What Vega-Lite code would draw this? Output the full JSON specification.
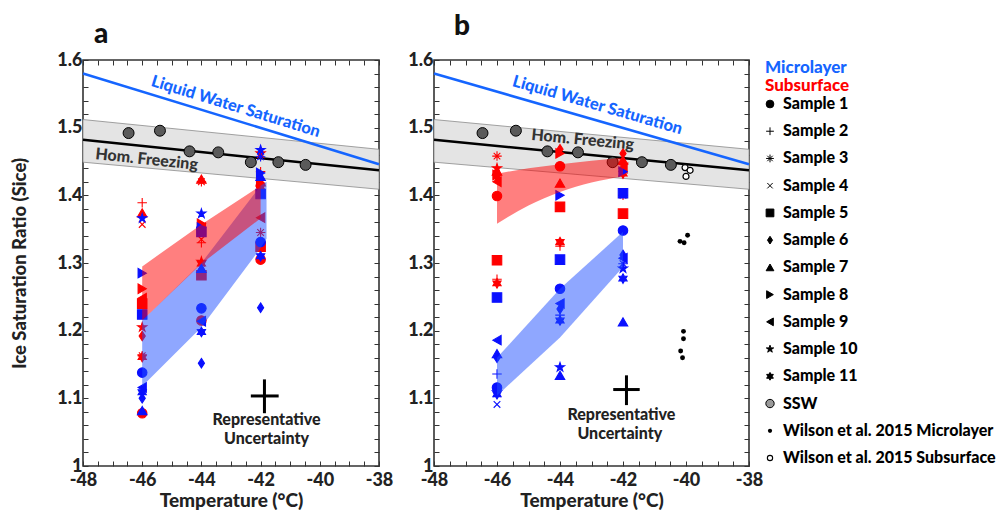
{
"$schema": "https://vega.github.io/schema/vega-lite/v6.json",
"background": "white",
"padding": {"left": 10, "top": 12, "right": 0, "bottom": 0},
"spacing": -11,
"config": {
  "font": "Lato",
  "view": {"stroke": "#333", "strokeWidth": 1.6},
  "axis": {"minExtent": 0, "labelFont": "Lato", "labelFontWeight": 900, "labelFontSize": 18, "labelColor": "#222", "titleFont": "Lato", "titleFontWeight": 900, "titleFontSize": 19, "titleColor": "#222", "grid": false, "domain": false, "tickColor": "#333", "tickSize": -5, "tickWidth": 1, "labelPadding": 6}
},
"datasets": {
  "pts": [
    {"p":"a","T":-46,"S":1.389,"sample":"Sample 2","type":"Subsurface"},
    {"p":"a","T":-46,"S":1.374,"sample":"Sample 7","type":"Subsurface"},
    {"p":"a","T":-46,"S":1.357,"sample":"Sample 4","type":"Subsurface"},
    {"p":"a","T":-46,"S":1.262,"sample":"Sample 8","type":"Subsurface"},
    {"p":"a","T":-46,"S":1.248,"sample":"Sample 9","type":"Subsurface"},
    {"p":"a","T":-46,"S":1.240,"sample":"Sample 5","type":"Subsurface"},
    {"p":"a","T":-46,"S":1.205,"sample":"Sample 10","type":"Subsurface"},
    {"p":"a","T":-46,"S":1.192,"sample":"Sample 6","type":"Subsurface"},
    {"p":"a","T":-46,"S":1.163,"sample":"Sample 3","type":"Subsurface"},
    {"p":"a","T":-46,"S":1.161,"sample":"Sample 11","type":"Subsurface"},
    {"p":"a","T":-46,"S":1.078,"sample":"Sample 1","type":"Subsurface"},
    {"p":"a","T":-44,"S":1.420,"sample":"Sample 3","type":"Subsurface"},
    {"p":"a","T":-44,"S":1.424,"sample":"Sample 7","type":"Subsurface"},
    {"p":"a","T":-44,"S":1.358,"sample":"Sample 8","type":"Subsurface"},
    {"p":"a","T":-44,"S":1.352,"sample":"Sample 9","type":"Subsurface"},
    {"p":"a","T":-44,"S":1.335,"sample":"Sample 4","type":"Subsurface"},
    {"p":"a","T":-44,"S":1.330,"sample":"Sample 2","type":"Subsurface"},
    {"p":"a","T":-44,"S":1.299,"sample":"Sample 11","type":"Subsurface"},
    {"p":"a","T":-44,"S":1.302,"sample":"Sample 10","type":"Subsurface"},
    {"p":"a","T":-44,"S":1.282,"sample":"Sample 5","type":"Subsurface"},
    {"p":"a","T":-44,"S":1.290,"sample":"Sample 6","type":"Subsurface"},
    {"p":"a","T":-44,"S":1.215,"sample":"Sample 1","type":"Subsurface"},
    {"p":"a","T":-42,"S":1.435,"sample":"Sample 2","type":"Subsurface"},
    {"p":"a","T":-42,"S":1.462,"sample":"Sample 10","type":"Subsurface"},
    {"p":"a","T":-42,"S":1.420,"sample":"Sample 7","type":"Subsurface"},
    {"p":"a","T":-42,"S":1.412,"sample":"Sample 11","type":"Subsurface"},
    {"p":"a","T":-42,"S":1.418,"sample":"Sample 8","type":"Subsurface"},
    {"p":"a","T":-42,"S":1.367,"sample":"Sample 9","type":"Subsurface"},
    {"p":"a","T":-42,"S":1.345,"sample":"Sample 3","type":"Subsurface"},
    {"p":"a","T":-42,"S":1.324,"sample":"Sample 5","type":"Subsurface"},
    {"p":"a","T":-42,"S":1.305,"sample":"Sample 1","type":"Subsurface"},
    {"p":"a","T":-46,"S":1.366,"sample":"Sample 10","type":"Microlayer"},
    {"p":"a","T":-46,"S":1.285,"sample":"Sample 8","type":"Microlayer"},
    {"p":"a","T":-46,"S":1.224,"sample":"Sample 5","type":"Microlayer"},
    {"p":"a","T":-46,"S":1.138,"sample":"Sample 1","type":"Microlayer"},
    {"p":"a","T":-46,"S":1.116,"sample":"Sample 9","type":"Microlayer"},
    {"p":"a","T":-46,"S":1.109,"sample":"Sample 11","type":"Microlayer"},
    {"p":"a","T":-46,"S":1.100,"sample":"Sample 6","type":"Microlayer"},
    {"p":"a","T":-46,"S":1.082,"sample":"Sample 7","type":"Microlayer"},
    {"p":"a","T":-44,"S":1.373,"sample":"Sample 10","type":"Microlayer"},
    {"p":"a","T":-44,"S":1.352,"sample":"Sample 8","type":"Microlayer"},
    {"p":"a","T":-44,"S":1.346,"sample":"Sample 5","type":"Microlayer"},
    {"p":"a","T":-44,"S":1.292,"sample":"Sample 7","type":"Microlayer"},
    {"p":"a","T":-44,"S":1.233,"sample":"Sample 1","type":"Microlayer"},
    {"p":"a","T":-44,"S":1.214,"sample":"Sample 9","type":"Microlayer"},
    {"p":"a","T":-44,"S":1.198,"sample":"Sample 11","type":"Microlayer"},
    {"p":"a","T":-44,"S":1.152,"sample":"Sample 6","type":"Microlayer"},
    {"p":"a","T":-42,"S":1.467,"sample":"Sample 10","type":"Microlayer"},
    {"p":"a","T":-42,"S":1.457,"sample":"Sample 3","type":"Microlayer"},
    {"p":"a","T":-42,"S":1.433,"sample":"Sample 8","type":"Microlayer"},
    {"p":"a","T":-42,"S":1.428,"sample":"Sample 7","type":"Microlayer"},
    {"p":"a","T":-42,"S":1.402,"sample":"Sample 5","type":"Microlayer"},
    {"p":"a","T":-42,"S":1.331,"sample":"Sample 1","type":"Microlayer"},
    {"p":"a","T":-42,"S":1.310,"sample":"Sample 11","type":"Microlayer"},
    {"p":"a","T":-42,"S":1.234,"sample":"Sample 6","type":"Microlayer"},
    {"p":"b","T":-46,"S":1.458,"sample":"Sample 3","type":"Subsurface"},
    {"p":"b","T":-46,"S":1.440,"sample":"Sample 10","type":"Subsurface"},
    {"p":"b","T":-46,"S":1.436,"sample":"Sample 7","type":"Subsurface"},
    {"p":"b","T":-46,"S":1.430,"sample":"Sample 8","type":"Subsurface"},
    {"p":"b","T":-46,"S":1.427,"sample":"Sample 6","type":"Subsurface"},
    {"p":"b","T":-46,"S":1.420,"sample":"Sample 9","type":"Subsurface"},
    {"p":"b","T":-46,"S":1.399,"sample":"Sample 1","type":"Subsurface"},
    {"p":"b","T":-46,"S":1.304,"sample":"Sample 5","type":"Subsurface"},
    {"p":"b","T":-46,"S":1.276,"sample":"Sample 2","type":"Subsurface"},
    {"p":"b","T":-46,"S":1.270,"sample":"Sample 11","type":"Subsurface"},
    {"p":"b","T":-44,"S":1.468,"sample":"Sample 6","type":"Subsurface"},
    {"p":"b","T":-44,"S":1.462,"sample":"Sample 8","type":"Subsurface"},
    {"p":"b","T":-44,"S":1.443,"sample":"Sample 1","type":"Subsurface"},
    {"p":"b","T":-44,"S":1.418,"sample":"Sample 7","type":"Subsurface"},
    {"p":"b","T":-44,"S":1.383,"sample":"Sample 5","type":"Subsurface"},
    {"p":"b","T":-44,"S":1.331,"sample":"Sample 11","type":"Subsurface"},
    {"p":"b","T":-44,"S":1.325,"sample":"Sample 2","type":"Subsurface"},
    {"p":"b","T":-42,"S":1.462,"sample":"Sample 6","type":"Subsurface"},
    {"p":"b","T":-42,"S":1.452,"sample":"Sample 7","type":"Subsurface"},
    {"p":"b","T":-42,"S":1.445,"sample":"Sample 10","type":"Subsurface"},
    {"p":"b","T":-42,"S":1.440,"sample":"Sample 9","type":"Subsurface"},
    {"p":"b","T":-42,"S":1.432,"sample":"Sample 11","type":"Subsurface"},
    {"p":"b","T":-42,"S":1.400,"sample":"Sample 3","type":"Subsurface"},
    {"p":"b","T":-42,"S":1.373,"sample":"Sample 5","type":"Subsurface"},
    {"p":"b","T":-46,"S":1.249,"sample":"Sample 5","type":"Microlayer"},
    {"p":"b","T":-46,"S":1.186,"sample":"Sample 9","type":"Microlayer"},
    {"p":"b","T":-46,"S":1.166,"sample":"Sample 7","type":"Microlayer"},
    {"p":"b","T":-46,"S":1.160,"sample":"Sample 6","type":"Microlayer"},
    {"p":"b","T":-46,"S":1.136,"sample":"Sample 2","type":"Microlayer"},
    {"p":"b","T":-46,"S":1.116,"sample":"Sample 1","type":"Microlayer"},
    {"p":"b","T":-46,"S":1.109,"sample":"Sample 10","type":"Microlayer"},
    {"p":"b","T":-46,"S":1.106,"sample":"Sample 11","type":"Microlayer"},
    {"p":"b","T":-46,"S":1.091,"sample":"Sample 4","type":"Microlayer"},
    {"p":"b","T":-44,"S":1.400,"sample":"Sample 8","type":"Microlayer"},
    {"p":"b","T":-44,"S":1.305,"sample":"Sample 5","type":"Microlayer"},
    {"p":"b","T":-44,"S":1.262,"sample":"Sample 1","type":"Microlayer"},
    {"p":"b","T":-44,"S":1.240,"sample":"Sample 9","type":"Microlayer"},
    {"p":"b","T":-44,"S":1.232,"sample":"Sample 6","type":"Microlayer"},
    {"p":"b","T":-44,"S":1.223,"sample":"Sample 2","type":"Microlayer"},
    {"p":"b","T":-44,"S":1.215,"sample":"Sample 11","type":"Microlayer"},
    {"p":"b","T":-44,"S":1.146,"sample":"Sample 10","type":"Microlayer"},
    {"p":"b","T":-44,"S":1.134,"sample":"Sample 7","type":"Microlayer"},
    {"p":"b","T":-42,"S":1.435,"sample":"Sample 8","type":"Microlayer"},
    {"p":"b","T":-42,"S":1.403,"sample":"Sample 5","type":"Microlayer"},
    {"p":"b","T":-42,"S":1.348,"sample":"Sample 1","type":"Microlayer"},
    {"p":"b","T":-42,"S":1.312,"sample":"Sample 6","type":"Microlayer"},
    {"p":"b","T":-42,"S":1.307,"sample":"Sample 9","type":"Microlayer"},
    {"p":"b","T":-42,"S":1.299,"sample":"Sample 3","type":"Microlayer"},
    {"p":"b","T":-42,"S":1.292,"sample":"Sample 10","type":"Microlayer"},
    {"p":"b","T":-42,"S":1.277,"sample":"Sample 11","type":"Microlayer"},
    {"p":"b","T":-42,"S":1.213,"sample":"Sample 7","type":"Microlayer"}
  ],
  "ssw": [
    {"T":-46.46,"S":1.492},{"T":-45.40,"S":1.4955},{"T":-44.40,"S":1.465},{"T":-43.43,"S":1.4635},
    {"T":-42.33,"S":1.449},{"T":-41.40,"S":1.449},{"T":-40.48,"S":1.445}
  ],
  "wilson": [
    {"T":-40.19,"S":1.332,"set":"Microlayer"},{"T":-40.06,"S":1.330,"set":"Microlayer"},{"T":-39.95,"S":1.341,"set":"Microlayer"},
    {"T":-40.08,"S":1.199,"set":"Microlayer"},{"T":-40.08,"S":1.188,"set":"Microlayer"},{"T":-40.17,"S":1.170,"set":"Microlayer"},{"T":-40.11,"S":1.160,"set":"Microlayer"},
    {"T":-40.03,"S":1.441,"set":"Subsurface"},{"T":-39.87,"S":1.437,"set":"Subsurface"},{"T":-40.0,"S":1.428,"set":"Subsurface"}
  ],
  "lines": [
    {"line":"lws","T":-48,"S":1.580},{"line":"lws","T":-38,"S":1.446},
    {"line":"hom","T":-48,"S":1.482},{"line":"hom","T":-38,"S":1.437}
  ],
  "band": [{"T":-48,"lo":1.449,"hi":1.512},{"T":-38,"lo":1.409,"hi":1.468}],
  "poly": [
    {"p":"a","g":"Microlayer","T":-46,"lo":1.118,"hi":1.215},
    {"p":"a","g":"Microlayer","T":-44,"lo":1.205,"hi":1.300},
    {"p":"a","g":"Microlayer","T":-42,"lo":1.322,"hi":1.414},
    {"p":"a","g":"Microlayer","T":-41.8,"lo":1.336,"hi":1.420},
    {"p":"a","g":"Subsurface","T":-46,"lo":1.215,"hi":1.295},
    {"p":"a","g":"Subsurface","T":-44,"lo":1.299,"hi":1.357},
    {"p":"a","g":"Subsurface","T":-42,"lo":1.366,"hi":1.414},
    {"p":"b","g":"Microlayer","T":-46,"lo":1.104,"hi":1.160},
    {"p":"b","g":"Microlayer","T":-44,"lo":1.190,"hi":1.262},
    {"p":"b","g":"Microlayer","T":-42,"lo":1.294,"hi":1.346},
    {"p":"b","g":"Subsurface","T":-46,"lo":1.358,"hi":1.432},
    {"p":"b","g":"Subsurface","T":-45,"lo":1.385,"hi":1.440},
    {"p":"b","g":"Subsurface","T":-44,"lo":1.405,"hi":1.446},
    {"p":"b","g":"Subsurface","T":-43,"lo":1.419,"hi":1.451},
    {"p":"b","g":"Subsurface","T":-42,"lo":1.428,"hi":1.456}
  ],
  "cross": [
    {"p":"a","T":-41.87,"S":1.1035,"T1":-42.33,"T2":-41.39,"S1":1.078,"S2":1.128},
    {"p":"b","T":-41.89,"S":1.113,"T1":-42.31,"T2":-41.47,"S1":1.090,"S2":1.134}
  ],
  "notes": [
    {"p":"a","kind":"lws","T":-42.84,"S":1.531,"txt":"Liquid Water Saturation"},
    {"p":"a","kind":"hom","T":-45.85,"S":1.453,"txt":"Hom. Freezing"},
    {"p":"a","kind":"unc","T":-41.8,"S":1.0676,"txt":"Representative"},
    {"p":"a","kind":"unc","T":-41.8,"S":1.0395,"txt":"Uncertainty"},
    {"p":"b","kind":"lws","T":-42.81,"S":1.533,"txt":"Liquid Water Saturation"},
    {"p":"b","kind":"hom","T":-43.28,"S":1.482,"txt":"Hom. Freezing"},
    {"p":"b","kind":"unc","T":-42.05,"S":1.075,"txt":"Representative"},
    {"p":"b","kind":"unc","T":-42.1,"S":1.048,"txt":"Uncertainty"}
  ],
  "legend": [
    {"label":"Sample 1","kind":"sample"},{"label":"Sample 2","kind":"sample"},{"label":"Sample 3","kind":"sample"},
    {"label":"Sample 4","kind":"sample"},{"label":"Sample 5","kind":"sample"},{"label":"Sample 6","kind":"sample"},
    {"label":"Sample 7","kind":"sample"},{"label":"Sample 8","kind":"sample"},{"label":"Sample 9","kind":"sample"},
    {"label":"Sample 10","kind":"sample"},{"label":"Sample 11","kind":"sample"},{"label":"SSW","kind":"ssw"},
    {"label":"Wilson et al. 2015 Microlayer","kind":"wm"},{"label":"Wilson et al. 2015 Subsurface","kind":"ws"}
  ]
},
"hconcat": [
  {
    "width": 296, "height": 406,
    "title": {"text": "a", "anchor": "start", "frame": "group", "fontSize": 28, "fontWeight": 900, "font": "Lato", "color": "#111", "dx": 11, "offset": 2},
    "resolve": {"axis": {"x": "independent", "y": "independent"}},
    "layer": [
      {"data": {"name": "band"}, "mark": {"type": "area", "fill": "#e4e4e4", "stroke": "#8a8a8a", "strokeWidth": 0.8},
       "encoding": {
         "x": {"field": "T", "type": "quantitative", "scale": {"domain": [-48, -38], "nice": false, "zero": false},
               "axis": {"orient": "bottom", "values": [-48,-47.5,-47,-46.5,-46,-45.5,-45,-44.5,-44,-43.5,-43,-42.5,-42,-41.5,-41,-40.5,-40,-39.5,-39,-38.5,-38], "labelExpr": "datum.value % 2 == 0 ? toString(datum.value) : ''", "title": "Temperature (°C)", "titlePadding": 2, "labelPadding": 10, "labelFlush": false}},
         "y": {"field": "hi", "type": "quantitative", "scale": {"domain": [1, 1.6], "nice": false, "zero": false},
               "axis": {"orient": "left", "values": [1,1.02,1.04,1.06,1.08,1.1,1.12,1.14,1.16,1.18,1.2,1.22,1.24,1.26,1.28,1.3,1.32,1.34,1.36,1.38,1.4,1.42,1.44,1.46,1.48,1.5,1.52,1.54,1.56,1.58,1.6], "labelExpr": "abs(datum.value*10 - round(datum.value*10)) < 0.001 ? toString(round(datum.value*10)/10) : ''", "title": "Ice Saturation Ratio (Sice)", "titleFontSize": 18.5, "titlePadding": 27, "labelFlush": false}},
         "y2": {"field": "lo"}
       }},
      {"data": {"name": "lines"}, "transform": [{"filter": "datum.line == 'hom'"}], "mark": {"type": "line", "color": "#000", "strokeWidth": 2.5},
       "encoding": {
         "x": {"field": "T", "type": "quantitative", "axis": {"orient": "top", "values": [-48,-47.5,-47,-46.5,-46,-45.5,-45,-44.5,-44,-43.5,-43,-42.5,-42,-41.5,-41,-40.5,-40,-39.5,-39,-38.5,-38], "labels": false, "title": null, "maxExtent": 0, "minExtent": 0}},
         "y": {"field": "S", "type": "quantitative", "axis": {"orient": "right", "values": [1,1.02,1.04,1.06,1.08,1.1,1.12,1.14,1.16,1.18,1.2,1.22,1.24,1.26,1.28,1.3,1.32,1.34,1.36,1.38,1.4,1.42,1.44,1.46,1.48,1.5,1.52,1.54,1.56,1.58,1.6], "labels": false, "title": null, "maxExtent": 0, "minExtent": 0}}
       }},
      {"data": {"name": "lines"}, "transform": [{"filter": "datum.line == 'lws'"}], "mark": {"type": "line", "color": "#1565ff", "strokeWidth": 2.5},
       "encoding": {"x": {"field": "T", "type": "quantitative", "axis": null}, "y": {"field": "S", "type": "quantitative", "axis": null}}},
      {"data": {"name": "pts"}, "transform": [{"filter": "datum.p == 'a'"}], "mark": {"type": "point", "filled": true, "strokeWidth": 1.1, "opacity": 1, "size": 90},
       "encoding": {
         "x": {"field": "T", "type": "quantitative", "axis": null},
         "y": {"field": "S", "type": "quantitative", "axis": null},
         "shape": {"field": "sample", "type": "nominal", "legend": null, "scale": {"domain": ["Sample 1","Sample 2","Sample 3","Sample 4","Sample 5","Sample 6","Sample 7","Sample 8","Sample 9","Sample 10","Sample 11"], "range": ["circle","M-1,0L1,0M0,-1L0,1","M-1,0L1,0M0,-1L0,1M-0.7,-0.7L0.7,0.7M-0.7,0.7L0.7,-0.7","M-0.7,-0.7L0.7,0.7M-0.7,0.7L0.7,-0.7","square","M0,-1L0.65,0L0,1L-0.65,0Z","triangle-up","triangle-right","triangle-left","M0,-1L0.2245,-0.309L0.951,-0.309L0.363,0.118L0.588,0.809L0,0.382L-0.588,0.809L-0.363,0.118L-0.951,-0.309L-0.2245,-0.309Z","M0,-1L0.2887,-0.5L0.866,-0.5L0.577,0L0.866,0.5L0.2887,0.5L0,1L-0.2887,0.5L-0.866,0.5L-0.577,0L-0.866,-0.5L-0.2887,-0.5Z"]}},
         "fill": {"field": "type", "type": "nominal", "legend": null, "scale": {"domain": ["Subsurface","Microlayer"], "range": ["#ff0000","#0a10ff"]}},
         "stroke": {"field": "type", "type": "nominal", "legend": null, "scale": {"domain": ["Subsurface","Microlayer"], "range": ["#ff0000","#0a10ff"]}}
       }},
      {"data": {"name": "ssw"}, "mark": {"type": "point", "shape": "circle", "filled": true, "fill": "#5a5a5a", "stroke": "#000", "strokeWidth": 1, "opacity": 1, "size": 120},
       "encoding": {"x": {"field": "T", "type": "quantitative", "axis": null}, "y": {"field": "S", "type": "quantitative", "axis": null}}},
      {"data": {"name": "poly"}, "transform": [{"filter": "datum.p == 'a' && datum.g == 'Microlayer'"}], "mark": {"type": "area", "color": "#2050ff", "opacity": 0.5},
       "encoding": {"x": {"field": "T", "type": "quantitative", "axis": null}, "y": {"field": "hi", "type": "quantitative", "axis": null}, "y2": {"field": "lo"}}},
      {"data": {"name": "poly"}, "transform": [{"filter": "datum.p == 'a' && datum.g == 'Subsurface'"}], "mark": {"type": "area", "color": "#ff0000", "opacity": 0.5},
       "encoding": {"x": {"field": "T", "type": "quantitative", "axis": null}, "y": {"field": "hi", "type": "quantitative", "axis": null}, "y2": {"field": "lo"}}},
      {"data": {"name": "notes"}, "transform": [{"filter": "datum.p == 'a' && datum.kind == 'lws'"}], "mark": {"type": "text", "angle": 17, "fontSize": 16.5, "fontWeight": 900, "color": "#1565ff", "font": "Lato"},
       "encoding": {"x": {"field": "T", "type": "quantitative", "axis": null}, "y": {"field": "S", "type": "quantitative", "axis": null}, "text": {"field": "txt"}}},
      {"data": {"name": "notes"}, "transform": [{"filter": "datum.p == 'a' && datum.kind == 'hom'"}], "mark": {"type": "text", "angle": 6, "fontSize": 16, "fontWeight": 900, "color": "#333", "font": "Lato"},
       "encoding": {"x": {"field": "T", "type": "quantitative", "axis": null}, "y": {"field": "S", "type": "quantitative", "axis": null}, "text": {"field": "txt"}}},
      {"data": {"name": "notes"}, "transform": [{"filter": "datum.p == 'a' && datum.kind == 'unc'"}], "mark": {"type": "text", "fontSize": 16, "fontWeight": 900, "color": "#222", "font": "Lato"},
       "encoding": {"x": {"field": "T", "type": "quantitative", "axis": null}, "y": {"field": "S", "type": "quantitative", "axis": null}, "text": {"field": "txt"}}},
      {"data": {"name": "cross"}, "transform": [{"filter": "datum.p == 'a'"}], "mark": {"type": "rule", "color": "#000", "strokeWidth": 3},
       "encoding": {"x": {"field": "T1", "type": "quantitative", "axis": null}, "x2": {"field": "T2"}, "y": {"field": "S", "type": "quantitative", "axis": null}}},
      {"data": {"name": "cross"}, "transform": [{"filter": "datum.p == 'a'"}], "mark": {"type": "rule", "color": "#000", "strokeWidth": 3},
       "encoding": {"x": {"field": "T", "type": "quantitative", "axis": null}, "y": {"field": "S1", "type": "quantitative", "axis": null}, "y2": {"field": "S2"}}}
    ]
  },
  {
    "width": 315, "height": 406,
    "title": {"text": "b", "anchor": "start", "frame": "group", "fontSize": 28, "fontWeight": 900, "font": "Lato", "color": "#111", "dx": 20, "offset": 10},
    "resolve": {"axis": {"x": "independent", "y": "independent"}},
    "layer": [
      {"data": {"name": "band"}, "mark": {"type": "area", "fill": "#e4e4e4", "stroke": "#8a8a8a", "strokeWidth": 0.8},
       "encoding": {
         "x": {"field": "T", "type": "quantitative", "scale": {"domain": [-48, -38], "nice": false, "zero": false},
               "axis": {"orient": "bottom", "values": [-48,-47.5,-47,-46.5,-46,-45.5,-45,-44.5,-44,-43.5,-43,-42.5,-42,-41.5,-41,-40.5,-40,-39.5,-39,-38.5,-38], "labelExpr": "datum.value % 2 == 0 ? toString(datum.value) : ''", "title": "Temperature (°C)", "titlePadding": 2, "labelPadding": 10, "labelFlush": false}},
         "y": {"field": "hi", "type": "quantitative", "scale": {"domain": [1, 1.6], "nice": false, "zero": false},
               "axis": {"orient": "left", "values": [1,1.02,1.04,1.06,1.08,1.1,1.12,1.14,1.16,1.18,1.2,1.22,1.24,1.26,1.28,1.3,1.32,1.34,1.36,1.38,1.4,1.42,1.44,1.46,1.48,1.5,1.52,1.54,1.56,1.58,1.6], "labelExpr": "abs(datum.value*10 - round(datum.value*10)) < 0.001 ? toString(round(datum.value*10)/10) : ''", "title": " ", "titleFontSize": 8, "titlePadding": 15.5, "labelFlush": false}},
         "y2": {"field": "lo"}
       }},
      {"data": {"name": "lines"}, "transform": [{"filter": "datum.line == 'hom'"}], "mark": {"type": "line", "color": "#000", "strokeWidth": 2.5},
       "encoding": {
         "x": {"field": "T", "type": "quantitative", "axis": {"orient": "top", "values": [-48,-47.5,-47,-46.5,-46,-45.5,-45,-44.5,-44,-43.5,-43,-42.5,-42,-41.5,-41,-40.5,-40,-39.5,-39,-38.5,-38], "labels": false, "title": null, "maxExtent": 0, "minExtent": 0}},
         "y": {"field": "S", "type": "quantitative", "axis": {"orient": "right", "values": [1,1.02,1.04,1.06,1.08,1.1,1.12,1.14,1.16,1.18,1.2,1.22,1.24,1.26,1.28,1.3,1.32,1.34,1.36,1.38,1.4,1.42,1.44,1.46,1.48,1.5,1.52,1.54,1.56,1.58,1.6], "labels": false, "title": null, "maxExtent": 0, "minExtent": 0}}
       }},
      {"data": {"name": "lines"}, "transform": [{"filter": "datum.line == 'lws'"}], "mark": {"type": "line", "color": "#1565ff", "strokeWidth": 2.5},
       "encoding": {"x": {"field": "T", "type": "quantitative", "axis": null}, "y": {"field": "S", "type": "quantitative", "axis": null}}},
      {"data": {"name": "pts"}, "transform": [{"filter": "datum.p == 'b'"}], "mark": {"type": "point", "filled": true, "strokeWidth": 1.1, "opacity": 1, "size": 90},
       "encoding": {
         "x": {"field": "T", "type": "quantitative", "axis": null},
         "y": {"field": "S", "type": "quantitative", "axis": null},
         "shape": {"field": "sample", "type": "nominal", "legend": null, "scale": {"domain": ["Sample 1","Sample 2","Sample 3","Sample 4","Sample 5","Sample 6","Sample 7","Sample 8","Sample 9","Sample 10","Sample 11"], "range": ["circle","M-1,0L1,0M0,-1L0,1","M-1,0L1,0M0,-1L0,1M-0.7,-0.7L0.7,0.7M-0.7,0.7L0.7,-0.7","M-0.7,-0.7L0.7,0.7M-0.7,0.7L0.7,-0.7","square","M0,-1L0.65,0L0,1L-0.65,0Z","triangle-up","triangle-right","triangle-left","M0,-1L0.2245,-0.309L0.951,-0.309L0.363,0.118L0.588,0.809L0,0.382L-0.588,0.809L-0.363,0.118L-0.951,-0.309L-0.2245,-0.309Z","M0,-1L0.2887,-0.5L0.866,-0.5L0.577,0L0.866,0.5L0.2887,0.5L0,1L-0.2887,0.5L-0.866,0.5L-0.577,0L-0.866,-0.5L-0.2887,-0.5Z"]}},
         "fill": {"field": "type", "type": "nominal", "legend": null, "scale": {"domain": ["Subsurface","Microlayer"], "range": ["#ff0000","#0a10ff"]}},
         "stroke": {"field": "type", "type": "nominal", "legend": null, "scale": {"domain": ["Subsurface","Microlayer"], "range": ["#ff0000","#0a10ff"]}}
       }},
      {"data": {"name": "wilson"}, "transform": [{"filter": "datum.set == 'Microlayer'"}], "mark": {"type": "point", "shape": "circle", "filled": true, "fill": "#000", "opacity": 1, "size": 24},
       "encoding": {"x": {"field": "T", "type": "quantitative", "axis": null}, "y": {"field": "S", "type": "quantitative", "axis": null}}},
      {"data": {"name": "wilson"}, "transform": [{"filter": "datum.set == 'Subsurface'"}], "mark": {"type": "point", "shape": "circle", "filled": false, "fill": "#fff", "stroke": "#000", "strokeWidth": 1.2, "opacity": 1, "size": 36},
       "encoding": {"x": {"field": "T", "type": "quantitative", "axis": null}, "y": {"field": "S", "type": "quantitative", "axis": null}}},
      {"data": {"name": "ssw"}, "mark": {"type": "point", "shape": "circle", "filled": true, "fill": "#5a5a5a", "stroke": "#000", "strokeWidth": 1, "opacity": 1, "size": 120},
       "encoding": {"x": {"field": "T", "type": "quantitative", "axis": null}, "y": {"field": "S", "type": "quantitative", "axis": null}}},
      {"data": {"name": "poly"}, "transform": [{"filter": "datum.p == 'b' && datum.g == 'Microlayer'"}], "mark": {"type": "area", "color": "#2050ff", "opacity": 0.5},
       "encoding": {"x": {"field": "T", "type": "quantitative", "axis": null}, "y": {"field": "hi", "type": "quantitative", "axis": null}, "y2": {"field": "lo"}}},
      {"data": {"name": "poly"}, "transform": [{"filter": "datum.p == 'b' && datum.g == 'Subsurface'"}], "mark": {"type": "area", "color": "#ff0000", "opacity": 0.5, "interpolate": "monotone"},
       "encoding": {"x": {"field": "T", "type": "quantitative", "axis": null}, "y": {"field": "hi", "type": "quantitative", "axis": null}, "y2": {"field": "lo"}}},
      {"data": {"name": "notes"}, "transform": [{"filter": "datum.p == 'b' && datum.kind == 'lws'"}], "mark": {"type": "text", "angle": 16, "fontSize": 16.5, "fontWeight": 900, "color": "#1565ff", "font": "Lato"},
       "encoding": {"x": {"field": "T", "type": "quantitative", "axis": null}, "y": {"field": "S", "type": "quantitative", "axis": null}, "text": {"field": "txt"}}},
      {"data": {"name": "notes"}, "transform": [{"filter": "datum.p == 'b' && datum.kind == 'hom'"}], "mark": {"type": "text", "angle": 5.5, "fontSize": 16, "fontWeight": 900, "color": "#333", "font": "Lato"},
       "encoding": {"x": {"field": "T", "type": "quantitative", "axis": null}, "y": {"field": "S", "type": "quantitative", "axis": null}, "text": {"field": "txt"}}},
      {"data": {"name": "notes"}, "transform": [{"filter": "datum.p == 'b' && datum.kind == 'unc'"}], "mark": {"type": "text", "fontSize": 16, "fontWeight": 900, "color": "#222", "font": "Lato"},
       "encoding": {"x": {"field": "T", "type": "quantitative", "axis": null}, "y": {"field": "S", "type": "quantitative", "axis": null}, "text": {"field": "txt"}}},
      {"data": {"name": "cross"}, "transform": [{"filter": "datum.p == 'b'"}], "mark": {"type": "rule", "color": "#000", "strokeWidth": 3},
       "encoding": {"x": {"field": "T1", "type": "quantitative", "axis": null}, "x2": {"field": "T2"}, "y": {"field": "S", "type": "quantitative", "axis": null}}},
      {"data": {"name": "cross"}, "transform": [{"filter": "datum.p == 'b'"}], "mark": {"type": "rule", "color": "#000", "strokeWidth": 3},
       "encoding": {"x": {"field": "T", "type": "quantitative", "axis": null}, "y": {"field": "S1", "type": "quantitative", "axis": null}, "y2": {"field": "S2"}}}
    ]
  },
  {
    "width": 12, "height": 406,
    "view": {"stroke": null},
    "title": {"text": "Microlayer", "subtitle": "Subsurface", "anchor": "start", "frame": "group", "font": "Lato", "subtitleFont": "Lato", "fontSize": 17, "subtitleFontSize": 17, "fontWeight": 900, "subtitleFontWeight": 900, "color": "#1565ff", "subtitleColor": "#ff0000", "offset": -35, "dx": 1, "subtitlePadding": 1},
    "data": {"name": "legend"},
    "encoding": {
      "y": {"field": "label", "type": "nominal", "axis": null, "scale": {"type": "point", "padding": 0, "range": [44, 398], "domain": ["Sample 1","Sample 2","Sample 3","Sample 4","Sample 5","Sample 6","Sample 7","Sample 8","Sample 9","Sample 10","Sample 11","SSW","Wilson et al. 2015 Microlayer","Wilson et al. 2015 Subsurface"]}}
    },
    "layer": [
      {"transform": [{"filter": "datum.kind == 'sample'"}], "mark": {"type": "point", "filled": true, "fill": "#000", "stroke": "#000", "strokeWidth": 1, "opacity": 1, "size": 60},
       "encoding": {"shape": {"field": "label", "type": "nominal", "legend": null, "scale": {"domain": ["Sample 1","Sample 2","Sample 3","Sample 4","Sample 5","Sample 6","Sample 7","Sample 8","Sample 9","Sample 10","Sample 11"], "range": ["circle","M-1,0L1,0M0,-1L0,1","M-1,0L1,0M0,-1L0,1M-0.7,-0.7L0.7,0.7M-0.7,0.7L0.7,-0.7","M-0.7,-0.7L0.7,0.7M-0.7,0.7L0.7,-0.7","square","M0,-1L0.65,0L0,1L-0.65,0Z","triangle-up","triangle-right","triangle-left","M0,-1L0.2245,-0.309L0.951,-0.309L0.363,0.118L0.588,0.809L0,0.382L-0.588,0.809L-0.363,0.118L-0.951,-0.309L-0.2245,-0.309Z","M0,-1L0.2887,-0.5L0.866,-0.5L0.577,0L0.866,0.5L0.2887,0.5L0,1L-0.2887,0.5L-0.866,0.5L-0.577,0L-0.866,-0.5L-0.2887,-0.5Z"]}}}},
      {"transform": [{"filter": "datum.kind == 'ssw'"}], "mark": {"type": "point", "shape": "circle", "filled": true, "fill": "#999", "stroke": "#000", "strokeWidth": 1, "opacity": 1, "size": 70}},
      {"transform": [{"filter": "datum.kind == 'wm'"}], "mark": {"type": "point", "shape": "circle", "filled": true, "fill": "#000", "opacity": 1, "size": 18}},
      {"transform": [{"filter": "datum.kind == 'ws'"}], "mark": {"type": "point", "shape": "circle", "filled": false, "fill": "#fff", "stroke": "#000", "strokeWidth": 1.1, "opacity": 1, "size": 28}},
      {"mark": {"type": "text", "align": "left", "dx": 13, "fontSize": 16, "fontWeight": 900, "color": "#000", "font": "Lato"},
       "encoding": {"text": {"field": "label"}}}
    ]
  }
]
}
